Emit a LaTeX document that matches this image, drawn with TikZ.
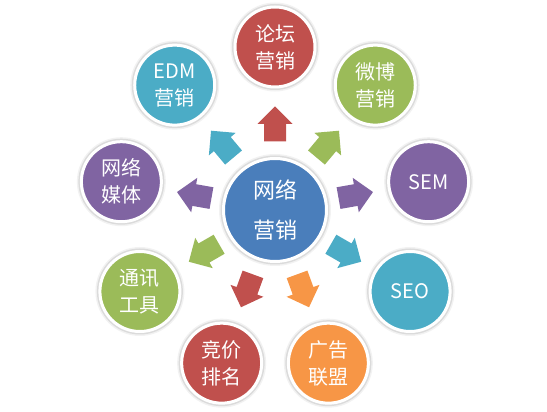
\documentclass[tikz,border=0pt]{standalone}
\usepackage{fontspec}
\newfontfamily\cjk{Noto Sans CJK SC}
\definecolor{cblue}{HTML}{4A7EBB}
\definecolor{cred}{HTML}{C0504D}
\definecolor{cgreen}{HTML}{9BBB59}
\definecolor{cpurple}{HTML}{8064A2}
\definecolor{cteal}{HTML}{4BACC6}
\definecolor{corange}{HTML}{F79646}
\tikzset{
  bub/.style={circle, fill=#1, draw=white, line width=3pt, minimum size=80pt,
    inner sep=0pt, text=white, align=center,
    font=\cjk\fontsize{20}{27}\selectfont,
    preaction={draw=black!5, line width=9pt},
    preaction={draw=black!14, line width=6pt}},
  blockarrow/.pic={\fill[#1] (-17.5,-11) -- (0,-11) -- (0,-17.5) -- (17.5,0)
    -- (0,17.5) -- (0,11) -- (-17.5,11) -- cycle;}
}
\begin{document}
\begin{tikzpicture}[x=1pt,y=1pt]
\useasboundingbox (0,0) rectangle (547,412);
\coordinate (O) at (275,202);
\node[bub=cblue, minimum size=103pt, font=\cjk\fontsize{22}{40}\selectfont] (hub) at (O) {网络\\营销};
\foreach \name/\ang/\col/\txt in {
  lt/90/cred/{论坛\\营销},
  wb/50/cgreen/{微博\\营销},
  sem/10/cpurple/{SEM},
  seo/-30/cteal/{SEO},
  gg/-70/corange/{广告\\联盟},
  jj/-110/cred/{竞价\\排名},
  tx/-150/cgreen/{通讯\\工具},
  mt/170/cpurple/{网络\\媒体},
  edm/130/cteal/{EDM\\营销}}{
  \path (O) ++(\ang:156 and 163) node[bub=\col] (\name) {\txt};
  \path (O) ++(\ang:82 and 86) pic[rotate=\ang] {blockarrow=\col};
}
\end{tikzpicture}
\end{document}
